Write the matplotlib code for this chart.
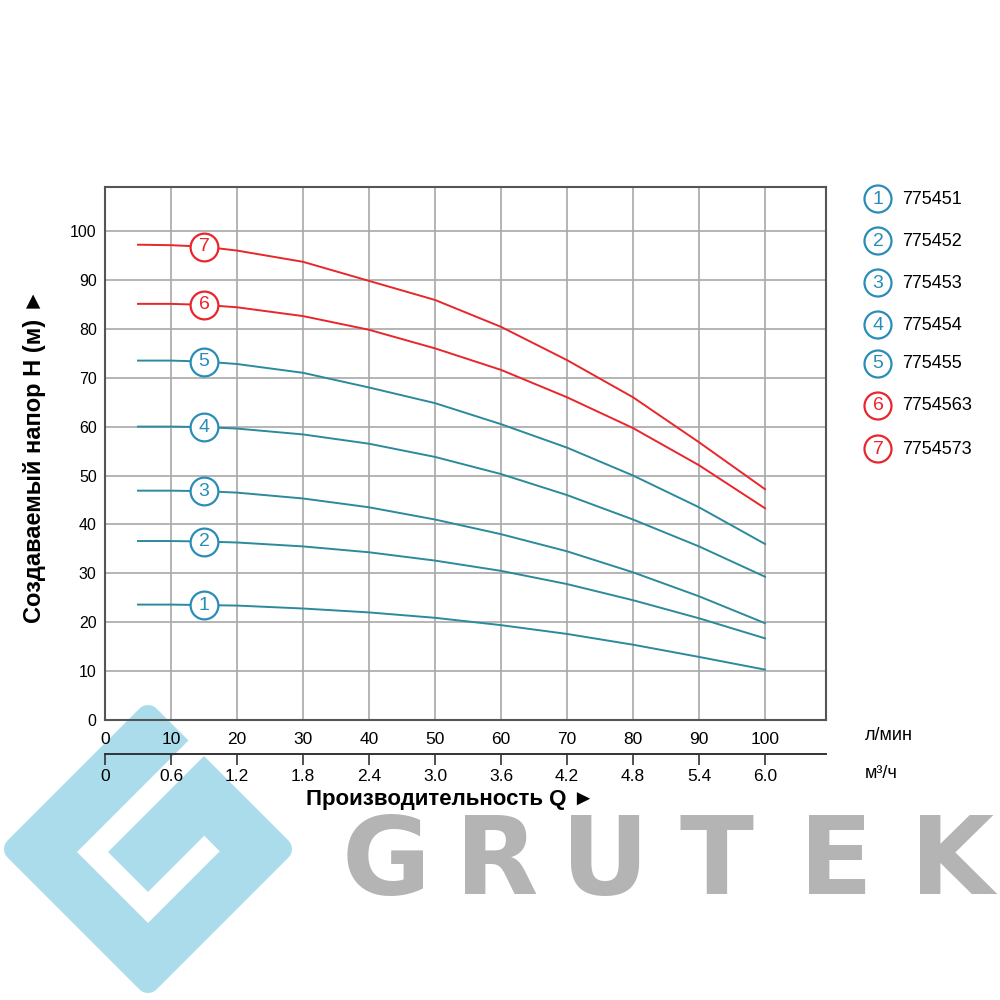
import matplotlib
matplotlib.use('Agg')
import matplotlib.pyplot as plt
from matplotlib.patches import Polygon, Circle

plt.rcParams['font.family'] = ['Liberation Sans', 'DejaVu Sans']

# ---------------- data ----------------
flow_lpm = [5, 10, 15, 20, 30, 40, 50, 60, 70, 80, 90, 100]
head_775451 = [23.6, 23.6, 23.5, 23.4, 22.8, 22.0, 20.9, 19.4, 17.6, 15.4, 12.9, 10.3]
head_775452 = [36.6, 36.6, 36.5, 36.3, 35.5, 34.3, 32.6, 30.5, 27.8, 24.5, 20.8, 16.7]
head_775453 = [46.9, 46.9, 46.8, 46.5, 45.3, 43.5, 41.0, 38.0, 34.5, 30.2, 25.3, 19.8]
head_775454 = [60.0, 60.0, 59.9, 59.6, 58.4, 56.5, 53.8, 50.3, 46.0, 41.0, 35.5, 29.3]
head_775455 = [73.5, 73.5, 73.3, 72.8, 71.0, 68.0, 64.8, 60.5, 55.7, 50.0, 43.5, 36.0]
head_7754563 = [85.1, 85.1, 84.9, 84.4, 82.6, 79.8, 76.0, 71.6, 66.0, 59.7, 52.1, 43.3]
head_7754573 = [97.2, 97.1, 96.8, 96.0, 93.7, 89.8, 85.9, 80.4, 73.6, 66.0, 56.8, 47.2]

models = ['775451', '775452', '775453', '775454', '775455', '7754563', '7754573']
model_numbers = [1, 2, 3, 4, 5, 6, 7]
heads = [head_775451, head_775452, head_775453, head_775454, head_775455,
         head_7754563, head_7754573]

lpm_ticks = [0, 10, 20, 30, 40, 50, 60, 70, 80, 90, 100]
m3h_ticks = [0, 0.6, 1.2, 1.8, 2.4, 3.0, 3.6, 4.2, 4.8, 5.4, 6.0]
m3h_labels = ['0', '0.6', '1.2', '1.8', '2.4', '3.0', '3.6', '4.2', '4.8', '5.4', '6.0']
head_ticks = [0, 10, 20, 30, 40, 50, 60, 70, 80, 90, 100]
label_flow = 15

# ---------------- style ----------------
TEAL_LINE = '#2b8a9c'
TEAL_MARK = '#2a8cb8'
RED = '#e8262b'
line_colors = [TEAL_LINE] * 5 + [RED] * 2
mark_colors = [TEAL_MARK] * 5 + [RED] * 2
LOGO_BLUE = '#abdcec'
LOGO_GREY = '#b4b4b4'

fig = plt.figure(figsize=(10, 10), dpi=100)

# background layer (logo), pixel coordinates
bg = fig.add_axes([0, 0, 1, 1], zorder=0)
bg.set_xlim(0, 1000)
bg.set_ylim(1000, 0)
bg.axis('off')
bg.add_patch(Polygon([(148, 717), (280, 849), (148, 981), (16, 849)], closed=True,
                     fc=LOGO_BLUE, ec=LOGO_BLUE, lw=17.3, joinstyle='round'))
bg.plot([228, 92.5, 148, 212], [716.5, 852, 907.5, 843.5], color='white', lw=15.8,
        solid_joinstyle='miter', solid_capstyle='butt')
for letter, cx in zip('GRUTEK', [386, 497, 605, 717, 836, 952]):
    bg.text(cx, 894, letter, ha='center', va='baseline', fontsize=78,
            fontweight='bold', color=LOGO_GREY, family='DejaVu Sans')

# main axes
ax = fig.add_axes([0.105, 0.28, 0.721, 0.533], zorder=2)
ax.set_facecolor('none')
ax.set_xlim(0, 109.24)
ax.set_ylim(0, 109)
ax.set_xticks(lpm_ticks)
ax.set_yticks(head_ticks)
ax.grid(True, color='#a8a8a8', lw=1.2)
ax.set_axisbelow(True)
ax.tick_params(axis='both', length=0)
ax.tick_params(axis='x', labelsize=12.5, pad=9)
ax.tick_params(axis='y', labelsize=11.5, pad=6)
for s in ax.spines.values():
    s.set_color('#555555')
    s.set_linewidth(1.5)

for h, lc, mc, n in zip(heads, line_colors, mark_colors, model_numbers):
    ax.plot(flow_lpm, h, color=lc, lw=1.4, zorder=3)
    yl = h[flow_lpm.index(label_flow)]
    ax.plot([label_flow], [yl], 'o', ms=20, mfc='white', mec=mc, mew=1.6, zorder=4)
    ax.text(label_flow, yl, str(n), color=mc, ha='center', va='center',
            fontsize=14, zorder=5)

sec = ax.secondary_xaxis(-0.0638, functions=(lambda q: q * 0.06, lambda m: m / 0.06))
sec.set_xticks(m3h_ticks, labels=m3h_labels)
sec.tick_params(direction='out', length=8, width=1.2, labelsize=12.5, pad=3,
                color='#333333')
sec.spines['bottom'].set_color('#333333')
sec.spines['bottom'].set_linewidth(1.4)

fig.text(0.865, 1 - 0.735, 'л/мин', ha='left', va='center', fontsize=13)
fig.text(0.865, 1 - 0.773, 'м³/ч', ha='left', va='center', fontsize=13)
fig.text(0.45, 1 - 0.800, 'Производительность Q ►', ha='center', va='center',
         fontsize=16, fontweight='bold')
fig.text(0.035, 1 - 0.456, 'Создаваемый напор H (м) ►', ha='center', va='center',
         rotation=90, fontsize=17, fontweight='bold')

# legend layer, pixel coordinates
fg = fig.add_axes([0, 0, 1, 1], zorder=5)
fg.set_xlim(0, 1000)
fg.set_ylim(1000, 0)
fg.axis('off')
fg.patch.set_alpha(0)
legend_y = [199, 241, 283, 325, 364, 406, 449]
for y, n, name, mc in zip(legend_y, model_numbers, models, mark_colors):
    fg.add_patch(Circle((878, y), 13.5, fc='white', ec=mc, lw=1.6))
    fg.text(878, y, str(n), color=mc, ha='center', va='center', fontsize=14)
    fg.text(902, y, name, ha='left', va='center', fontsize=13)

fig.savefig('out.png', dpi=100)
